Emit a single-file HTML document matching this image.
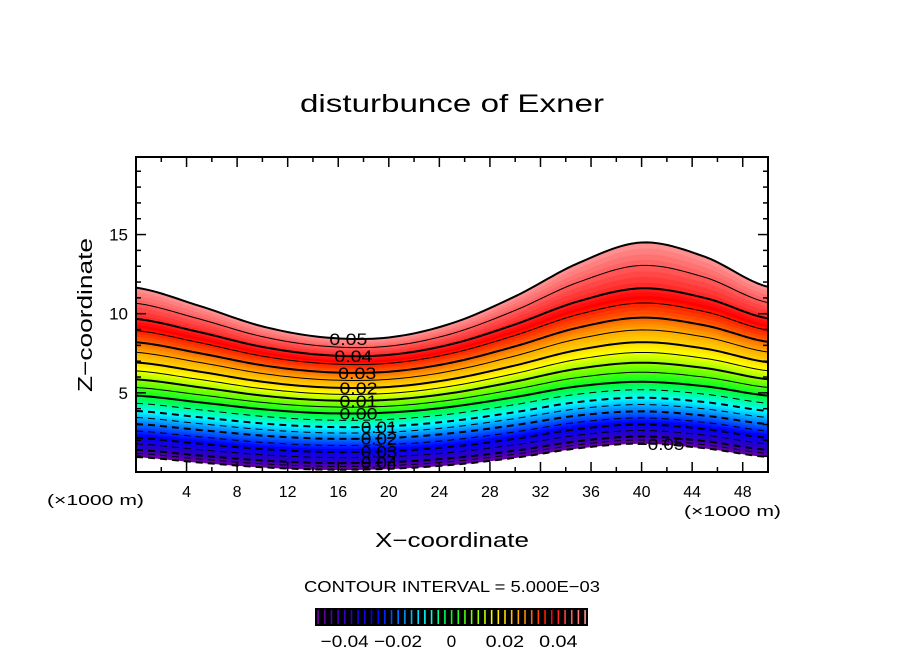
<!DOCTYPE html>
<html><head><meta charset="utf-8"><style>
body{margin:0;background:#fff;}
svg{display:block;font-family:"Liberation Sans",sans-serif;}
</style></head><body>
<svg id="c" width="904" height="654" viewBox="0 0 904 654">
<text x="452" y="112" font-size="25" text-anchor="middle" textLength="304" lengthAdjust="spacingAndGlyphs">disturbunce of Exner</text>
<g id="plot"></g>
<text x="452" y="547" font-size="20" text-anchor="middle" textLength="154" lengthAdjust="spacingAndGlyphs">X−coordinate</text>
<text transform="translate(92,315) rotate(-90)" font-size="20" text-anchor="middle" textLength="154" lengthAdjust="spacingAndGlyphs">Z−coordinate</text>
<text x="47" y="505" font-size="15" textLength="97" lengthAdjust="spacingAndGlyphs">(×1000 m)</text>
<text x="684" y="516" font-size="15" textLength="97" lengthAdjust="spacingAndGlyphs">(×1000 m)</text>
<text x="452" y="592" font-size="16" text-anchor="middle" textLength="296" lengthAdjust="spacingAndGlyphs">CONTOUR INTERVAL = 5.000E−03</text>
<g id="cbar"></g>
</svg>
<script>
// data
const xs = [0,5,10,15,20,25,30,35,40,45,50];
const topZ = [11.65,10.5,9.2,8.5,8.5,9.4,11.1,13.2,14.5,13.6,11.7];
const botZ = [0.95,0.6,0.3,0.15,0.2,0.45,0.9,1.5,1.8,1.5,0.95];
const majorLevels = [-0.05,-0.04,-0.03,-0.02,-0.01,0,0.01,0.02,0.03,0.04,0.05];
const fracThin = [0,0.05,0.134,0.234,0.323,0.427,0.524,0.622,0.738,0.866,1];
const fracThick = [0,0.035,0.095,0.16,0.228,0.307,0.402,0.504,0.626,0.772,1];
const levels = [-0.05,-0.045,-0.04,-0.035,-0.03,-0.025,-0.02,-0.015,-0.01,-0.005,0,0.005,0.01,0.015,0.02,0.025,0.03,0.035,0.04,0.045,0.05];
const xTicks = [4,8,12,16,20,24,28,32,36,40,44,48];
const yTicks = [5,10,15];
const labelText = ["−0.05","0.04","0.03","0.02","0.01","0.00","−0.01","−0.02","−0.03","−0.04","0.05"];
const labelVal = [-0.05,0.04,0.03,0.02,0.01,0,-0.01,-0.02,-0.03,-0.04,0.05];
const labelX = [41.5,17.2,17.5,17.6,17.6,17.6,18.8,18.8,18.8,18.8,16.8];
const cbTicks = [-0.04,-0.02,0,0.02,0.04];
const cbLabels = ["−0.04","−0.02","0","0.02","0.04"];

const L=136,R=768,T=157,B=472;
const sx=v=>L+(v-0)/50*(R-L);
const sy=v=>B-(v-0)/19.9*(B-T);
const NS="http://www.w3.org/2000/svg";
function el(tag,attrs,parent){const e=document.createElementNS(NS,tag);for(const k in attrs)e.setAttribute(k,attrs[k]);parent.appendChild(e);return e;}
function interp(arr,x){
  const h=xs[1]-xs[0];let i=Math.min(Math.floor((x-xs[0])/h),xs.length-2);const t=(x-xs[i])/h;
  const p0=arr[Math.max(i-1,0)],p1=arr[i],p2=arr[i+1],p3=arr[Math.min(i+2,arr.length-1)];
  return 0.5*((2*p1)+(-p0+p2)*t+(2*p0-5*p1+4*p2-p3)*t*t+(-p0+3*p1-3*p2+p3)*t*t*t);
}
const lo=levels[0],hi=levels[levels.length-1];
const spanThin=topZ[3]-botZ[3], spanThick=topZ[8]-botZ[8];
function fracOf(arr,v){
  const p=(v-majorLevels[0])/(majorLevels[1]-majorLevels[0]);
  let i=Math.min(Math.max(Math.floor(p),0),majorLevels.length-2);const f=p-i;
  return arr[i]+(arr[i+1]-arr[i])*f;
}
function zAt(v,x){
  const b=interp(botZ,x),t=interp(topZ,x);const span=t-b;
  const w=Math.max(-0.3,Math.min(1.2,(span-spanThin)/(spanThick-spanThin)));
  const fr=fracOf(fracThin,v)*(1-w)+fracOf(fracThick,v)*w;
  return b+span*fr;
}
const stops=[[0,[112,0,160]],[0.12,[40,0,200]],[0.22,[0,0,255]],[0.32,[0,140,255]],[0.4,[0,255,255]],[0.5,[0,255,40]],[0.58,[120,255,0]],[0.66,[255,255,0]],[0.76,[255,160,0]],[0.87,[255,0,0]],[1,[255,150,150]]];
function color(t){t=Math.max(0,Math.min(1,t));for(let i=0;i<stops.length-1;i++){if(t<=stops[i+1][0]){const f=(t-stops[i][0])/(stops[i+1][0]-stops[i][0]);const a=stops[i][1],b=stops[i+1][1];return `rgb(${a.map((c,j)=>Math.round(c+(b[j]-c)*f)).join(',')})`;}}return 'rgb(255,150,150)';}
const plot=document.getElementById('plot');
const N=120;const xsamp=[];for(let k=0;k<=N;k++)xsamp.push(50*k/N);
function curve(v){return xsamp.map(x=>[sx(x).toFixed(2),sy(zAt(v,x)).toFixed(2)]);}
const sub=4;
for(let i=0;i<levels.length-1;i++){
  for(let s=0;s<sub;s++){
    const v0=levels[i]+(levels[i+1]-levels[i])*s/sub, v1=levels[i]+(levels[i+1]-levels[i])*(s+1)/sub;
    const a=curve(v0),b=curve(v1).reverse();
    const c=color((v0+v1)/2/(hi-lo)+0.5);
    const p=el('polygon',{points:a.concat(b).map(q=>q.join(',')).join(' '),fill:c,stroke:c,'stroke-width':0.6},plot);
    
    
  }
}
levels.forEach((v,i)=>{
  const major=Math.abs(Math.round(v*1000)%10)===0;
  const attrs={points:curve(v).map(q=>q.join(',')).join(' '),fill:'none',stroke:'#000','stroke-width':major?2:1};
  if(v<-1e-9)attrs['stroke-dasharray']='7,5';
  const pl=el('polyline',attrs,plot);
  
  
});
labelText.forEach((s,i)=>{
  const x=sx(labelX[i]),y=sy(zAt(labelVal[i],labelX[i]));
  const t=el('text',{x:x,y:y+6,'font-size':17,'text-anchor':'middle',textLength:s.length*9.5,lengthAdjust:'spacingAndGlyphs'},plot);t.textContent=s;
  
  
});
const fr=el('rect',{x:L,y:T,width:R-L,height:B-T,fill:'none',stroke:'#000','stroke-width':2},plot);


for(let v=2;v<50;v+=2){const major=v%4===0;const len=major?10:5;
  el('line',{x1:sx(v),x2:sx(v),y1:B,y2:B-len,stroke:'#000','stroke-width':1.5},plot);
  el('line',{x1:sx(v),x2:sx(v),y1:T,y2:T+len,stroke:'#000','stroke-width':1.5},plot);}
for(let v=1;v<20;v++){const major=v%5===0;const len=major?10:5;
  el('line',{x1:L,x2:L+len,y1:sy(v),y2:sy(v),stroke:'#000','stroke-width':1.5},plot);
  el('line',{x1:R,x2:R-len,y1:sy(v),y2:sy(v),stroke:'#000','stroke-width':1.5},plot);}
xTicks.forEach(v=>{const t=el('text',{x:sx(v),y:497,'font-size':16,'text-anchor':'middle'},plot);t.textContent=v;
  
  });
yTicks.forEach(v=>{const t=el('text',{x:128,y:sy(v)+6,'font-size':17,'text-anchor':'end'},plot);t.textContent=v;
  
  });
const cb=document.getElementById('cbar');
const cx=v=>318+(v-lo)/(hi-lo)*(585-318);
el('rect',{x:315,y:608,width:273,height:18,fill:'#000'},cb);
for(let v=lo;v<=hi+1e-9;v+=0.0025){
  const ln=el('rect',{x:cx(v)-0.7,y:610,width:1.6,height:14,fill:color(v/(hi-lo)+0.5)},cb);
  
  
}
cbTicks.forEach((v,i)=>{const s=cbLabels[i];const t=el('text',{x:cx(v),y:647,'font-size':17,'text-anchor':'middle',textLength:s.length*9.6,lengthAdjust:'spacingAndGlyphs'},cb);t.textContent=s;
  
  });
</script>
</body></html>
